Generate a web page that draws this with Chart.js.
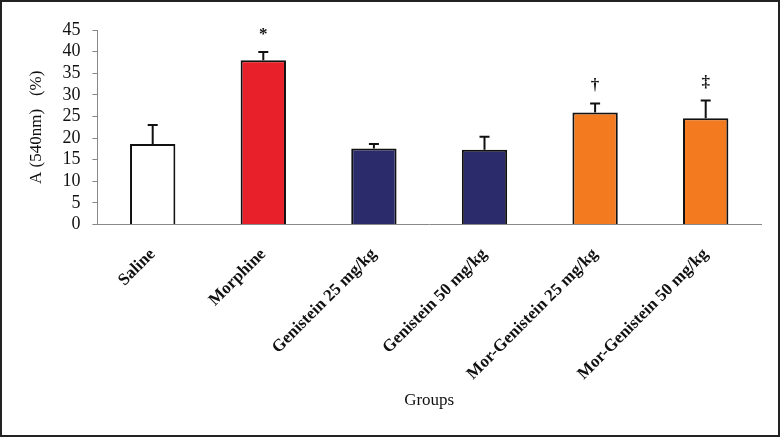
<!DOCTYPE html>
<html>
<head>
<meta charset="utf-8">
<script src="https://cdn.jsdelivr.net/npm/chart.js@4/dist/chart.umd.min.js"></script>
<style>
  html, body { margin: 0; padding: 0; background: #fff; }
  #wrap { width: 780px; height: 437px; box-sizing: border-box; border: 2px solid #222; }
</style>
</head>
<body>
<div id="wrap"><canvas id="myChart" width="776" height="433"></canvas></div>
<script>
const groups = ['Saline', 'Morphine', 'Genistein 25 mg/kg', 'Genistein 50 mg/kg', 'Mor-Genistein 25 mg/kg', 'Mor-Genistein 50 mg/kg'];
const means = [18.6, 38.0, 17.6, 17.3, 25.9, 24.6];
const errTops = [23.0, 39.9, 18.6, 20.3, 28.0, 28.7];
const marks = ['', '*', '', '', '†', '‡'];
const yTicks = [0, 5, 10, 15, 20, 25, 30, 35, 40, 45];
const barColors = ['#ffffff', '#e8202a', '#2b2a6b', '#2b2a6b', '#f47a20', '#f47a20'];

// upward error bars plus significance marks
const errorBars = {
    id: 'errorBars',
    afterDatasetsDraw(chart) {
        const ctx = chart.ctx;
        const meta = chart.getDatasetMeta(0);
        const y = chart.scales.y;
        ctx.save();
        ctx.strokeStyle = '#111';
        ctx.lineWidth = 2;
        meta.data.forEach((bar, i) => {
            const top = y.getPixelForValue(errTops[i]);
            ctx.beginPath();
            ctx.moveTo(bar.x, bar.y);
            ctx.lineTo(bar.x, top);
            ctx.moveTo(bar.x - 5, top);
            ctx.lineTo(bar.x + 5, top);
            ctx.stroke();
            if (marks[i]) {
                ctx.fillStyle = '#111';
                ctx.font = 'bold 17px "Liberation Serif"';
                ctx.textAlign = 'center';
                ctx.textBaseline = 'bottom';
                ctx.fillText(marks[i], bar.x, top - 9);
            }
        });
        ctx.restore();
    }
};

new Chart(document.getElementById('myChart'), {
    type: 'bar',
    data: {
        labels: groups,
        datasets: [{
            data: means,
            backgroundColor: barColors,
            borderColor: '#111',
            borderWidth: 2,
            borderSkipped: 'bottom',
            categoryPercentage: 1,
            barPercentage: 0.41
        }]
    },
    options: {
        responsive: false,
        animation: false,
        plugins: { legend: { display: false }, tooltip: { enabled: false } },
        layout: { padding: { top: 28, right: 17, bottom: 16, left: 20 } },
        scales: {
            y: {
                min: 0,
                max: 45,
                afterBuildTicks: scale => { scale.ticks = yTicks.map(v => ({ value: v })); },
                ticks: { color: '#111', padding: 12, autoSkip: false, font: { family: 'Liberation Serif', size: 18 } },
                grid: { drawOnChartArea: false, tickLength: 5, color: '#888' },
                border: { color: '#888', width: 1 },
                title: { display: true, text: 'A (540nm)   (%)', color: '#111', font: { family: 'Liberation Serif', size: 17 } }
            },
            x: {
                ticks: { color: '#111', padding: 12, autoSkip: false, minRotation: 45, maxRotation: 45, font: { family: 'Liberation Serif', size: 17, weight: 'bold' } },
                grid: { display: false },
                border: { color: '#888', width: 1 },
                title: { display: true, text: 'Groups', color: '#111', padding: { top: 4, bottom: 8 }, font: { family: 'Liberation Serif', size: 17 } }
            }
        }
    },
    plugins: [errorBars]
});
</script>
</body>
</html>
